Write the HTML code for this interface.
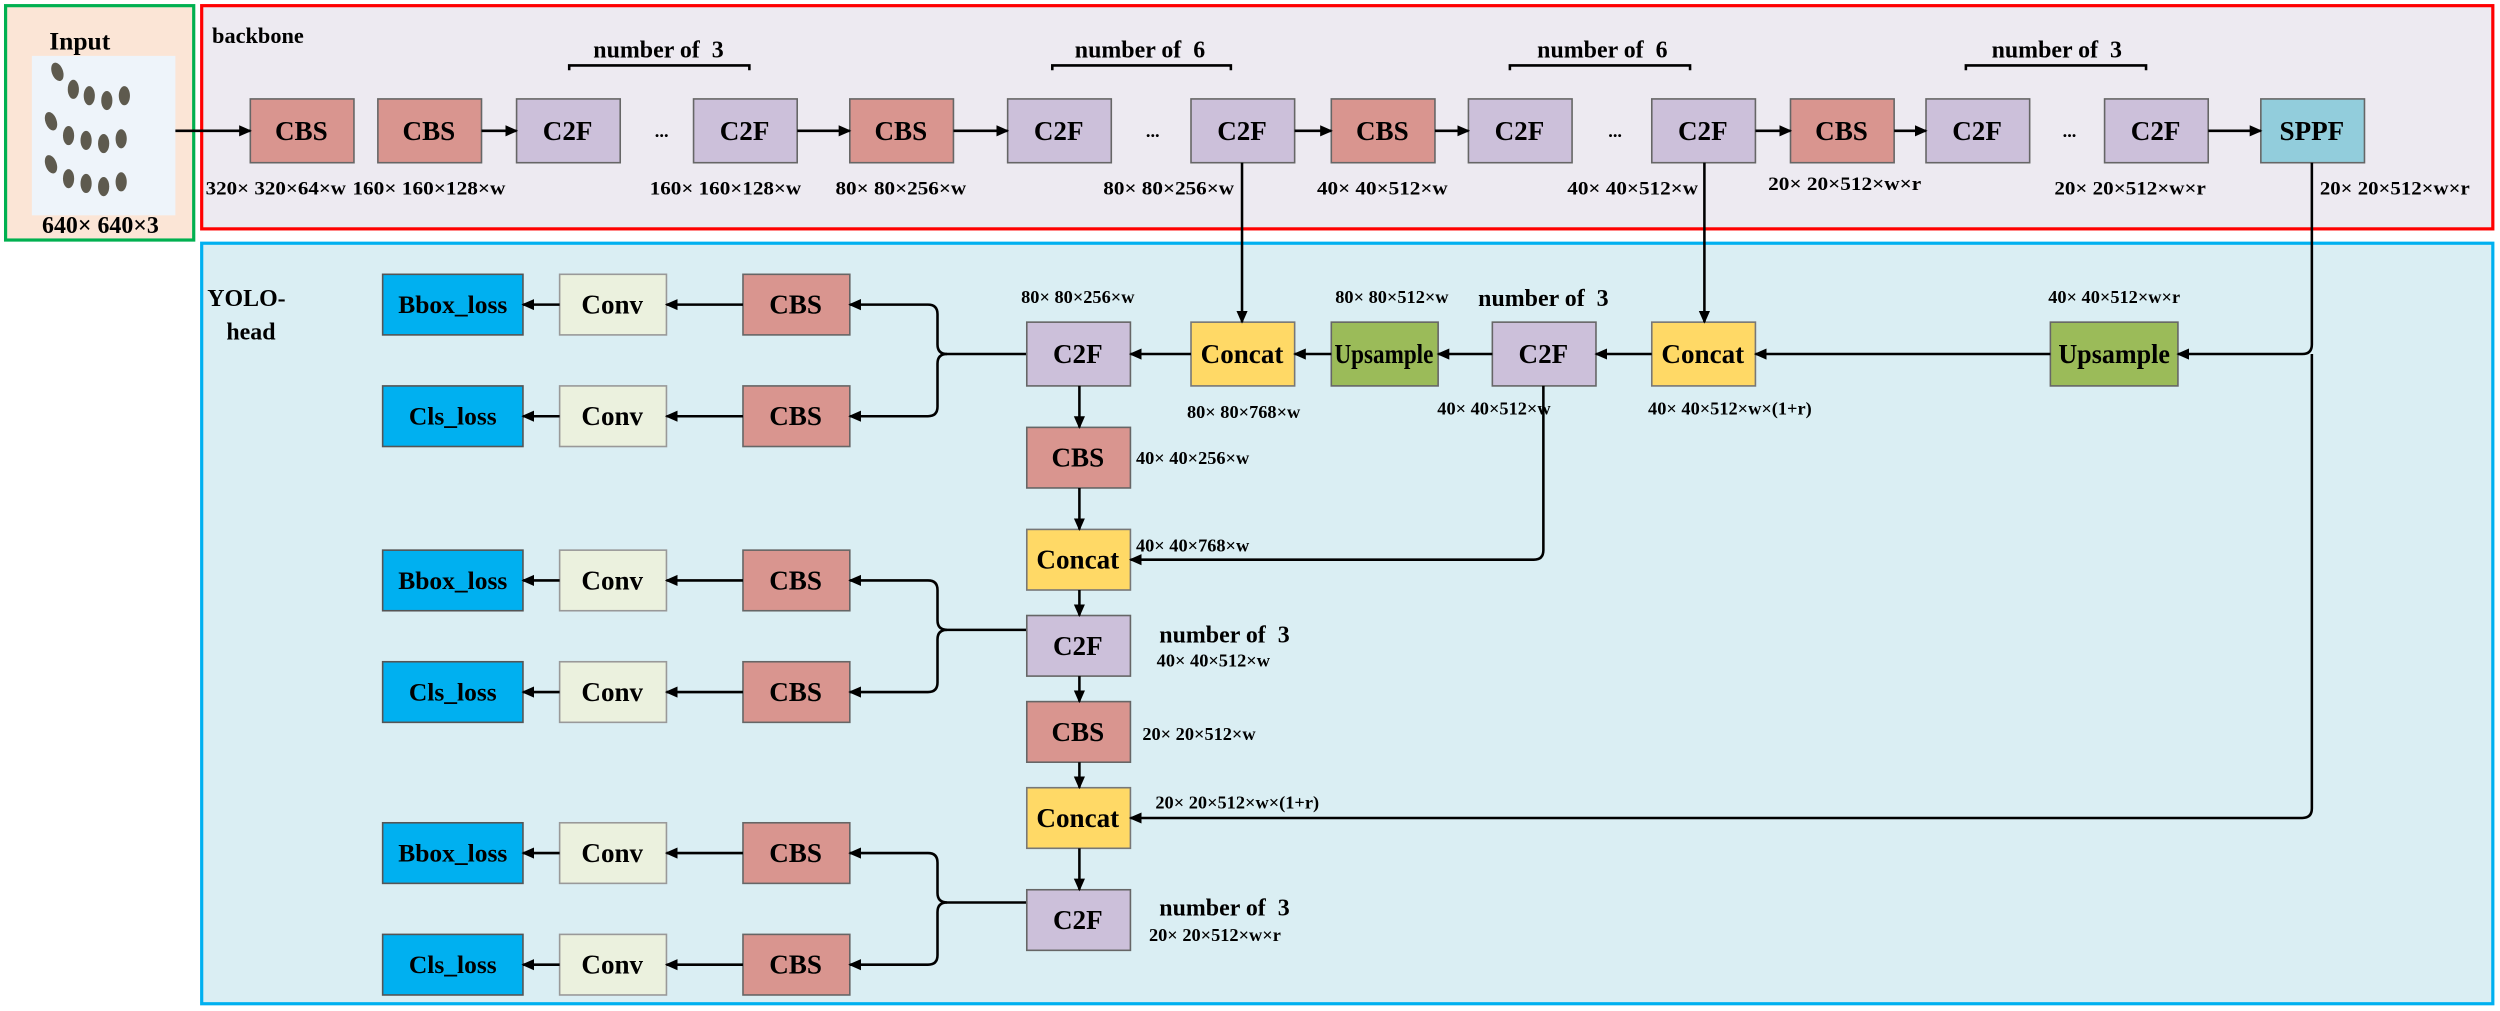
<!DOCTYPE html>
<html><head><meta charset="utf-8"><style>
html,body{margin:0;padding:0;background:#fff}
svg{display:block}
text{font-family:"Liberation Serif",serif;font-weight:bold;fill:#000}
.b{font-size:17px;text-anchor:middle;dominant-baseline:central}
.s{font-size:11.5px;text-anchor:middle}
.n{font-size:15px;text-anchor:middle}
.cbs{fill:#d9958f;stroke:#666;stroke-width:1}
.c2f{fill:#ccc0da;stroke:#666;stroke-width:1}
.cc{fill:#ffd966;stroke:#777;stroke-width:1}
.up{fill:#9bbb59;stroke:#666;stroke-width:1}
.cv{fill:#ebf1de;stroke:#999;stroke-width:1}
.lo{fill:#00b0f0;stroke:#555;stroke-width:1}
.l{stroke:#000;stroke-width:1.6;fill:none}
</style></head><body>
<svg width="2500" height="1011" viewBox="0 0 1568 634" xmlns="http://www.w3.org/2000/svg">
<defs><marker id="a" markerWidth="8" markerHeight="8" refX="7" refY="4" orient="auto" markerUnits="userSpaceOnUse"><path d="M0,0.5 L8,4 L0,7.5 z" fill="#000"/></marker></defs>
<rect width="1568" height="634" fill="#fff"/>
<!-- input -->
<rect x="3.5" y="3.5" width="118" height="147" fill="#fbe5d6" stroke="#00b050" stroke-width="2"/>
<text x="50" y="31" class="n" style="font-size:16px">Input</text>
<rect x="20" y="35" width="90" height="100" fill="#eef4fa"/>
<g fill="#5e5a4e">
<ellipse cx="36" cy="45" rx="3.5" ry="6" transform="rotate(-20 36 45)"/><ellipse cx="46" cy="56" rx="3.5" ry="6"/><ellipse cx="56" cy="60" rx="3.5" ry="6"/><ellipse cx="67" cy="63" rx="3.5" ry="6"/><ellipse cx="78" cy="60" rx="3.5" ry="6"/>
<ellipse cx="32" cy="76" rx="3.5" ry="6" transform="rotate(-20 32 76)"/><ellipse cx="43" cy="85" rx="3.5" ry="6"/><ellipse cx="54" cy="88" rx="3.5" ry="6"/><ellipse cx="65" cy="90" rx="3.5" ry="6"/><ellipse cx="76" cy="87" rx="3.5" ry="6"/>
<ellipse cx="32" cy="103" rx="3.5" ry="6" transform="rotate(-20 32 103)"/><ellipse cx="43" cy="112" rx="3.5" ry="6"/><ellipse cx="54" cy="115" rx="3.5" ry="6"/><ellipse cx="65" cy="117" rx="3.5" ry="6"/><ellipse cx="76" cy="114" rx="3.5" ry="6"/>
</g>
<text x="63" y="146" class="n" style="font-size:15px">640× 640×3</text>
<!-- backbone -->
<rect x="126.5" y="3.5" width="1437" height="140" fill="#edeaf1" stroke="#f00" stroke-width="2"/>
<text x="133" y="27" style="font-size:14px">backbone</text>
<g class="l"><path d="M357,44 v-3 h113 v3"/><path d="M660,44 v-3 h112 v3"/><path d="M947,44 v-3 h113 v3"/><path d="M1233,44 v-3 h113 v3"/></g>
<text x="413" y="36" class="n" xml:space="preserve">number of  3</text><text x="715" y="36" class="n" xml:space="preserve">number of  6</text><text x="1005" y="36" class="n" xml:space="preserve">number of  6</text><text x="1290" y="36" class="n" xml:space="preserve">number of  3</text>
<rect class="cbs" x="157" y="62" width="65" height="40"/><text class="b" x="189" y="82">CBS</text>
<rect class="cbs" x="237" y="62" width="65" height="40"/><text class="b" x="269" y="82">CBS</text>
<rect class="c2f" x="324" y="62" width="65" height="40"/><text class="b" x="356" y="82">C2F</text>
<text x="415" y="86" class="s">...</text>
<rect class="c2f" x="435" y="62" width="65" height="40"/><text class="b" x="467" y="82">C2F</text>
<rect class="cbs" x="533" y="62" width="65" height="40"/><text class="b" x="565" y="82">CBS</text>
<rect class="c2f" x="632" y="62" width="65" height="40"/><text class="b" x="664" y="82">C2F</text>
<text x="723" y="86" class="s">...</text>
<rect class="c2f" x="747" y="62" width="65" height="40"/><text class="b" x="779" y="82">C2F</text>
<rect class="cbs" x="835" y="62" width="65" height="40"/><text class="b" x="867" y="82">CBS</text>
<rect class="c2f" x="921" y="62" width="65" height="40"/><text class="b" x="953" y="82">C2F</text>
<text x="1013" y="86" class="s">...</text>
<rect class="c2f" x="1036" y="62" width="65" height="40"/><text class="b" x="1068" y="82">C2F</text>
<rect class="cbs" x="1123" y="62" width="65" height="40"/><text class="b" x="1155" y="82">CBS</text>
<rect class="c2f" x="1208" y="62" width="65" height="40"/><text class="b" x="1240" y="82">C2F</text>
<text x="1298" y="86" class="s">...</text>
<rect class="c2f" x="1320" y="62" width="65" height="40"/><text class="b" x="1352" y="82">C2F</text>
<rect x="1418" y="62" width="65" height="40" fill="#92cddc" stroke="#666"/><text class="b" x="1450" y="82">SPPF</text>
<g class="l" marker-end="url(#a)"><line x1="110" y1="82" x2="157" y2="82"/><line x1="302" y1="82" x2="324" y2="82"/><line x1="500" y1="82" x2="533" y2="82"/><line x1="598" y1="82" x2="632" y2="82"/><line x1="812" y1="82" x2="835" y2="82"/><line x1="900" y1="82" x2="921" y2="82"/><line x1="1101" y1="82" x2="1123" y2="82"/><line x1="1188" y1="82" x2="1208" y2="82"/><line x1="1385" y1="82" x2="1418" y2="82"/></g>
<g class="s" style="font-size:12px">
<text x="173" y="122" textLength="88" lengthAdjust="spacingAndGlyphs">320× 320×64×w</text>
<text x="269" y="122" textLength="96" lengthAdjust="spacingAndGlyphs">160× 160×128×w</text>
<text x="455" y="122" textLength="95" lengthAdjust="spacingAndGlyphs">160× 160×128×w</text>
<text x="565" y="122" textLength="82" lengthAdjust="spacingAndGlyphs">80× 80×256×w</text>
<text x="733" y="122" textLength="82" lengthAdjust="spacingAndGlyphs">80× 80×256×w</text>
<text x="867" y="122" textLength="82" lengthAdjust="spacingAndGlyphs">40× 40×512×w</text>
<text x="1024" y="122" textLength="82" lengthAdjust="spacingAndGlyphs">40× 40×512×w</text>
<text x="1157" y="119" textLength="96" lengthAdjust="spacingAndGlyphs">20× 20×512×w×r</text>
<text x="1336" y="122" textLength="95" lengthAdjust="spacingAndGlyphs">20× 20×512×w×r</text>
<text x="1502" y="122" textLength="94" lengthAdjust="spacingAndGlyphs">20× 20×512×w×r</text></g>
<!-- head -->
<rect x="126.5" y="152.5" width="1437" height="477" fill="#daeef3" stroke="#00b0f0" stroke-width="2"/>
<text x="130" y="192" style="font-size:15px">YOLO-</text><text x="142" y="213" style="font-size:15px">head</text>
<g id="r">
<rect class="lo" x="240" y="172" width="88" height="38"/><text class="b" x="284" y="191" style="font-size:16px">Bbox_loss</text>
<rect class="cv" x="351" y="172" width="67" height="38"/><text class="b" x="384" y="191">Conv</text>
<rect class="cbs" x="466" y="172" width="67" height="38"/><text class="b" x="499" y="191">CBS</text>
<rect class="lo" x="240" y="242" width="88" height="38"/><text class="b" x="284" y="261" style="font-size:16px">Cls_loss</text>
<rect class="cv" x="351" y="242" width="67" height="38"/><text class="b" x="384" y="261">Conv</text>
<rect class="cbs" x="466" y="242" width="67" height="38"/><text class="b" x="499" y="261">CBS</text>
<g class="l" marker-end="url(#a)"><line x1="466" y1="191" x2="418" y2="191"/><line x1="351" y1="191" x2="328" y2="191"/><line x1="466" y1="261" x2="418" y2="261"/><line x1="351" y1="261" x2="328" y2="261"/>
<path d="M644,222 H594 Q588,222 588,216 V197 Q588,191 582,191 H533"/><path d="M594,222 Q588,222 588,228 V255 Q588,261 582,261 H533"/></g>
</g>
<use href="#r" y="173"/>
<use href="#r" y="344"/>
<rect class="c2f" x="644" y="202" width="65" height="40"/><text class="b" x="676" y="222">C2F</text>
<rect class="cc" x="747" y="202" width="65" height="40"/><text class="b" x="779" y="222">Concat</text>
<rect class="up" x="835" y="202" width="67" height="40"/><text class="b" x="868" y="222" textLength="62" lengthAdjust="spacingAndGlyphs">Upsample</text>
<rect class="c2f" x="936" y="202" width="65" height="40"/><text class="b" x="968" y="222">C2F</text>
<rect class="cc" x="1036" y="202" width="65" height="40"/><text class="b" x="1068" y="222">Concat</text>
<rect class="up" x="1286" y="202" width="80" height="40"/><text class="b" x="1326" y="222" textLength="70" lengthAdjust="spacingAndGlyphs">Upsample</text>
<rect class="cbs" x="644" y="268" width="65" height="38"/><text class="b" x="676" y="287">CBS</text>
<rect class="cc" x="644" y="332" width="65" height="38"/><text class="b" x="676" y="351">Concat</text>
<rect class="c2f" x="644" y="386" width="65" height="38"/><text class="b" x="676" y="405">C2F</text>
<rect class="cbs" x="644" y="440" width="65" height="38"/><text class="b" x="676" y="459">CBS</text>
<rect class="cc" x="644" y="494" width="65" height="38"/><text class="b" x="676" y="513">Concat</text>
<rect class="c2f" x="644" y="558" width="65" height="38"/><text class="b" x="676" y="577">C2F</text>
<g class="l" marker-end="url(#a)">
<line x1="779" y1="102" x2="779" y2="202"/><line x1="1069" y1="102" x2="1069" y2="202"/>
<path d="M1450,102 V216 Q1450,222 1444,222 H1366"/>
<line x1="1286" y1="222" x2="1101" y2="222"/><line x1="1036" y1="222" x2="1001" y2="222"/><line x1="936" y1="222" x2="902" y2="222"/><line x1="835" y1="222" x2="812" y2="222"/><line x1="747" y1="222" x2="709" y2="222"/>
<line x1="677" y1="242" x2="677" y2="268"/><line x1="677" y1="306" x2="677" y2="332"/><line x1="677" y1="370" x2="677" y2="386"/><line x1="677" y1="424" x2="677" y2="440"/><line x1="677" y1="478" x2="677" y2="494"/><line x1="677" y1="532" x2="677" y2="558"/>
<path d="M968,242 V345 Q968,351 962,351 H709"/>
<path d="M1450,222 V507 Q1450,513 1444,513 H709"/>
</g>
<g class="s"><text x="676" y="190">80× 80×256×w</text><text x="873" y="190">80× 80×512×w</text><text x="780" y="262">80× 80×768×w</text><text x="937" y="260">40× 40×512×w</text><text x="1085" y="260">40× 40×512×w×(1+r)</text><text x="1326" y="190">40× 40×512×w×r</text>
<text x="748" y="291">40× 40×256×w</text><text x="748" y="346">40× 40×768×w</text><text x="761" y="418">40× 40×512×w</text><text x="752" y="464">20× 20×512×w</text><text x="776" y="507">20× 20×512×w×(1+r)</text><text x="762" y="590">20× 20×512×w×r</text></g>
<text x="968" y="192" class="n" xml:space="preserve">number of  3</text>
<text x="768" y="403" class="n" xml:space="preserve">number of  3</text>
<text x="768" y="574" class="n" xml:space="preserve">number of  3</text>
</svg>
</body></html>
